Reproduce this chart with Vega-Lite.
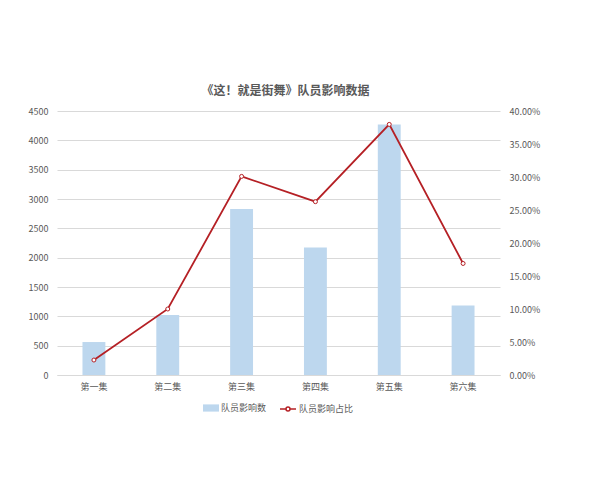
{
  "$schema": "https://vega.github.io/schema/vega-lite/v6.json",
  "width": 443,
  "height": 264,
  "autosize": {"type": "none"},
  "padding": {"left": 57, "top": 111, "right": 100, "bottom": 105},
  "background": "white",
  "title": {
    "text": "《这！就是街舞》队员影响数据",
    "fontSize": 12,
    "fontWeight": "bold",
    "color": "#595959",
    "font": "Noto Sans CJK SC",
    "offset": 9,
    "dx": 7
  },
  "data": {
    "values": [
      {"ep": "第一集", "count": 562, "ratio": 0.0227},
      {"ep": "第二集", "count": 1023, "ratio": 0.1000},
      {"ep": "第三集", "count": 2830, "ratio": 0.3009},
      {"ep": "第四集", "count": 2175, "ratio": 0.2626},
      {"ep": "第五集", "count": 4272, "ratio": 0.3797},
      {"ep": "第六集", "count": 1186, "ratio": 0.1690}
    ]
  },
  "config": {
    "view": {"stroke": null},
    "font": "Noto Sans CJK SC",
    "axis": {
      "labelFont": "Noto Sans CJK SC",
      "labelColor": "#595959",
      "labelFontSize": 9,
      "ticks": false,
      "domain": false,
      "grid": false,
      "title": null
    },
    "legend": {
      "labelFont": "Noto Sans CJK SC",
      "labelColor": "#595959",
      "labelFontSize": 9,
      "orient": "bottom",
      "direction": "horizontal",
      "title": null,
      "offset": 9,
      "labelOffset": 2,
      "layout": {"bottom": {"anchor": "middle", "direction": "horizontal", "margin": 12}}
    }
  },
  "encoding": {
    "x": {
      "field": "ep",
      "type": "nominal",
      "sort": null,
      "scale": {"paddingInner": 0.69, "paddingOuter": 0.345},
      "axis": {
        "labelAngle": 0,
        "domain": true,
        "domainColor": "#d9d9d9",
        "labelPadding": 7
      }
    }
  },
  "layer": [
    {
      "mark": {"type": "bar"},
      "encoding": {
        "y": {
          "field": "count",
          "type": "quantitative",
          "scale": {"domain": [0, 4500], "nice": false},
          "axis": {
            "values": [0, 500, 1000, 1500, 2000, 2500, 3000, 3500, 4000, 4500],
            "format": "d",
            "grid": true,
            "gridColor": "#d9d9d9",
            "labelPadding": 9
          }
        },
        "fill": {
          "datum": "队员影响数",
          "scale": {"range": ["#bdd7ee"]},
          "legend": {
            "symbolType": "M-1,-0.45H1V0.45H-1Z",
            "symbolSize": 256,
            "symbolStrokeWidth": 0
          }
        }
      }
    },
    {
      "encoding": {
        "y": {
          "field": "ratio",
          "type": "quantitative",
          "scale": {"domain": [0, 0.4], "nice": false},
          "axis": {
            "orient": "right",
            "format": ".2%",
            "values": [0, 0.05, 0.1, 0.15, 0.2, 0.25, 0.3, 0.35, 0.4],
            "labelPadding": 9
          }
        },
        "stroke": {
          "datum": "队员影响占比",
          "scale": {"range": ["#b52025"]},
          "legend": {
            "symbolType": "M-1,0H-0.25M0.25,0H1M-0.25,0A0.25,0.25 0 1,0 0.25,0A0.25,0.25 0 1,0 -0.25,0",
            "symbolSize": 256,
            "symbolFillColor": "white",
            "symbolStrokeWidth": 1.5
          }
        }
      },
      "layer": [
        {"mark": {"type": "line", "strokeWidth": 1.8}},
        {"mark": {"type": "point", "shape": "circle", "filled": true, "fill": "white", "size": 16, "strokeWidth": 1, "opacity": 1}}
      ]
    }
  ],
  "resolve": {"scale": {"y": "independent"}}
}
